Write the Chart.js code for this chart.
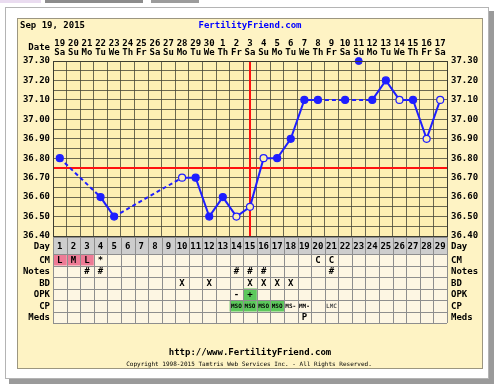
<!DOCTYPE html>
<html>
<head>
<meta charset="utf-8">
<script src="https://cdn.jsdelivr.net/npm/chart.js@4.4.0/dist/chart.umd.min.js"></script>
<style>
html, body { margin: 0; padding: 0; background: #fff; }
canvas { display: block; }
</style>
</head>
<body>
<canvas id="ffChart" width="500" height="387"></canvas>
<script>
// chart data
const chartTitle = 'Sep 19, 2015';
const cycleDays = ['1','2','3','4','5','6','7','8','9','10','11','12','13','14','15','16','17','18','19','20','21','22','23','24','25','26','27','28','29'];
const dates = ['19','20','21','22','23','24','25','26','27','28','29','30','1','2','3','4','5','6','7','8','9','10','11','12','13','14','15','16','17'];
const weekdays = ['Sa','Su','Mo','Tu','We','Th','Fr','Sa','Su','Mo','Tu','We','Th','Fr','Sa','Su','Mo','Tu','We','Th','Fr','Sa','Su','Mo','Tu','We','Th','Fr','Sa'];
const temps = [36.80, null, null, 36.60, 36.50, null, null, null, null, 36.70, 36.70, 36.50, 36.60, 36.50, 36.55, 36.80, 36.80, 36.90, 37.10, 37.10, null, 37.10, null, 37.10, 37.20, 37.10, 37.10, 36.90, 37.10];
const discardedTemps = [null, null, null, null, null, null, null, null, null, null, null, null, null, null, null, null, null, null, null, null, null, null, 37.30, null, null, null, null, null, null];
const openCircleDays = [10, 14, 15, 16, 26, 28, 29];
const coverline = 36.75;
const ovulationDay = '15';
const tempMin = 36.40;
const tempMax = 37.30;

const rowLabels = ['CM', 'Notes', 'BD', 'OPK', 'CP', 'Meds'];
const cmRow =    ['L','M','L','*','','','','','','','','','','','','','','','','C','C','','','','','','','',''];
const notesRow = ['','','#','#','','','','','','','','','','#','#','#','','','','','#','','','','','','','',''];
const bdRow =    ['','','','','','','','','','X','','X','','','X','X','X','X','','','','','','','','','','',''];
const opkRow =   ['','','','','','','','','','','','','','-','+','','','','','','','','','','','','','',''];
const cpRow =    ['','','','','','','','','','','','','','MSO','MSO','MSO','MSO','MS-','MM-','','LMC','','','','','','','',''];
const medsRow =  ['','','','','','','','','','','','','','','','','','','P','','','','','','','','','',''];
const tableRows = [cmRow, notesRow, bdRow, opkRow, cpRow, medsRow];

const MONO = '"DejaVu Sans Mono", "Liberation Mono", monospace';
const BLUE = '#1e1eff';
const PLOT_BG = '#fdefb3';
const PANEL_BG = '#fef3c4';
const GRID = 'rgba(70,70,55,0.8)';

function cellColor(row, value) {
	if (row === 0 && (value === 'L' || value === 'M')) return '#ee7b96';
	if (row === 3 && value === '+') return '#5cc85c';
	if (row === 4 && value === 'MSO') return '#5cc85c';
	return null;
}

const pageBackground = {
	id: 'pageBackground',
	beforeDraw(chart) {
		const ctx = chart.ctx;
		const a = chart.chartArea;
		ctx.save();
		ctx.fillStyle = '#fff';
		ctx.fillRect(0, 0, chart.width, chart.height);
		// bits of the site menu at the very top
		ctx.fillStyle = '#eadcf0';
		ctx.fillRect(0, 0, 41, 3);
		ctx.fillStyle = '#8c8c8c';
		ctx.fillRect(45, 0, 98, 3);
		ctx.fillStyle = '#9c9c9c';
		ctx.fillRect(151, 0, 48, 3);
		// frame with shadow
		ctx.fillStyle = '#9a9a9a';
		ctx.fillRect(9, 11, 485, 373);
		ctx.fillStyle = '#fff';
		ctx.fillRect(5, 7, 484, 372);
		ctx.strokeStyle = '#b4b4b4';
		ctx.lineWidth = 1;
		ctx.strokeRect(5.5, 7.5, 483, 371);
		// yellow panel
		ctx.fillStyle = PANEL_BG;
		ctx.fillRect(17, 18, 465, 350);
		ctx.strokeStyle = '#9c9680';
		ctx.strokeRect(17.5, 18.5, 465, 350);
		// plot area
		ctx.fillStyle = PLOT_BG;
		ctx.fillRect(a.left, a.top, a.right - a.left, a.bottom - a.top);
		ctx.restore();
	},
	beforeDatasetsDraw(chart) {
		const ctx = chart.ctx;
		const a = chart.chartArea;
		const x = chart.scales.x;
		const y = chart.scales.y;
		ctx.save();
		ctx.strokeStyle = '#ff1010';
		ctx.lineWidth = 2;
		const cy = Math.round(y.getPixelForValue(coverline));
		ctx.beginPath();
		ctx.moveTo(a.left, cy);
		ctx.lineTo(a.right, cy);
		const ox = Math.round(x.getPixelForValue(cycleDays.indexOf(ovulationDay)));
		ctx.moveTo(ox, a.top);
		ctx.lineTo(ox, a.bottom);
		ctx.stroke();
		ctx.restore();
	},
	afterDraw(chart) {
		const ctx = chart.ctx;
		const a = chart.chartArea;
		const x = chart.scales.x;
		const half = (x.getPixelForValue(1) - x.getPixelForValue(0)) / 2;
		ctx.save();
		ctx.fillStyle = '#000';
		ctx.font = 'bold 9px ' + MONO;
		ctx.textBaseline = 'middle';
		ctx.textAlign = 'left';
		ctx.fillText(chartTitle, 20, 26);
		ctx.textAlign = 'right';
		ctx.fillText('Date', 50, 48);
		ctx.textAlign = 'center';
		ctx.fillStyle = '#0000ff';
		ctx.fillText('FertilityFriend.com', 250, 26);

		// table under the plot
		const dayTop = a.bottom + 1;
		const dayBottom = dayTop + 17;
		const rowH = 11.5;
		const tableBottom = dayBottom + rowH * tableRows.length;
		ctx.fillStyle = '#cdcdcd';
		ctx.fillRect(a.left, dayTop, a.right - a.left, dayBottom - dayTop);
		ctx.fillStyle = '#fdf6e3';
		ctx.fillRect(a.left, dayBottom, a.right - a.left, tableBottom - dayBottom);

		tableRows.forEach((row, r) => {
			const top = dayBottom + r * rowH;
			row.forEach((val, i) => {
				const bg = cellColor(r, val);
				if (bg) {
					ctx.fillStyle = bg;
					ctx.fillRect(x.getPixelForValue(i) - half, top, half * 2, rowH);
				}
			});
		});

		ctx.strokeStyle = '#8e8e8e';
		ctx.lineWidth = 1;
		ctx.beginPath();
		for (let i = 0; i <= cycleDays.length; i++) {
			const bx = Math.round(x.getPixelForValue(i) - half) + 0.5;
			ctx.moveTo(bx, dayTop);
			ctx.lineTo(bx, tableBottom);
		}
		ctx.moveTo(a.left, dayTop + 0.5);
		ctx.lineTo(a.right, dayTop + 0.5);
		for (let r = 0; r <= tableRows.length; r++) {
			const by = Math.round(dayBottom + r * rowH) + 0.5;
			ctx.moveTo(a.left, by);
			ctx.lineTo(a.right, by);
		}
		ctx.stroke();

		ctx.fillStyle = '#000';
		ctx.font = 'bold 9px ' + MONO;
		const dayMid = (dayTop + dayBottom) / 2 + 1;
		cycleDays.forEach((d, i) => {
			ctx.fillText(d, x.getPixelForValue(i), dayMid);
		});
		ctx.textAlign = 'right';
		ctx.fillText('Day', 50, dayMid);
		ctx.textAlign = 'left';
		ctx.fillText('Day', 451, dayMid);
		rowLabels.forEach((lab, r) => {
			const cyRow = dayBottom + r * rowH + rowH / 2 + 0.5;
			ctx.textAlign = 'right';
			ctx.fillText(lab, 50, cyRow);
			ctx.textAlign = 'left';
			ctx.fillText(lab, 451, cyRow);
		});

		ctx.textAlign = 'center';
		tableRows.forEach((row, r) => {
			const cyRow = dayBottom + r * rowH + rowH / 2 + 0.5;
			row.forEach((val, i) => {
				if (!val) return;
				ctx.font = (val.length > 1 ? 'bold 6px ' : 'bold 9px ') + MONO;
				ctx.fillStyle = val === 'LMC' ? '#555' : '#000';
				ctx.fillText(val, x.getPixelForValue(i), cyRow);
			});
		});

		// footer
		ctx.fillStyle = '#000';
		ctx.font = 'bold 9px ' + MONO;
		ctx.fillText('http://www.FertilityFriend.com', 250, 353);
		ctx.font = '6px ' + MONO;
		ctx.fillText('Copyright 1998-2015 Tamtris Web Services Inc. - All Rights Reserved.', 249, 364);

		// plot border
		ctx.strokeStyle = '#3c3c30';
		ctx.strokeRect(a.left + 0.5, a.top + 0.5, a.right - a.left, a.bottom - a.top);
		ctx.restore();
	}
};

const pointFill = cycleDays.map((d, i) => (openCircleDays.includes(i + 1) ? PLOT_BG : BLUE));
const tickFont = { family: MONO, size: 9, weight: 'bold', lineHeight: 1 };

// dashed where the line jumps over days with no temperature
function spansGap(ctx) {
	return temps[ctx.p1DataIndex - 1] == null;
}

new Chart(document.getElementById('ffChart'), {
	type: 'line',
	data: {
		labels: cycleDays,
		datasets: [
			{
				label: 'Temperature',
				data: temps,
				borderColor: BLUE,
				borderWidth: 2,
				spanGaps: true,
				pointRadius: 3.5,
				pointBorderWidth: 1.2,
				pointBorderColor: BLUE,
				pointBackgroundColor: pointFill,
				segment: {
					borderDash: ctx => (spansGap(ctx) ? [4, 3] : undefined)
				},
				clip: false
			},
			{
				label: 'Discarded',
				data: discardedTemps,
				showLine: false,
				pointRadius: 3.5,
				pointBorderColor: BLUE,
				pointBackgroundColor: BLUE,
				clip: false
			}
		]
	},
	options: {
		responsive: false,
		devicePixelRatio: 1,
		animation: false,
		layout: { padding: { left: 0, right: 0, top: 0, bottom: 151 } },
		plugins: {
			legend: { display: false },
			tooltip: { enabled: false }
		},
		scales: {
			x: {
				type: 'category',
				position: 'top',
				offset: true,
				grid: { offset: true, color: GRID, drawTicks: false },
				border: { display: false },
				ticks: {
					autoSkip: false,
					maxRotation: 0,
					padding: 4,
					color: '#000',
					font: tickFont,
					callback: (v, i) => [dates[i], weekdays[i]]
				},
				afterFit: s => { s.height = 61; }
			},
			y: {
				position: 'left',
				min: tempMin,
				max: tempMax,
				grid: { color: GRID, drawTicks: false },
				border: { display: false },
				ticks: {
					stepSize: 0.05,
					autoSkip: false,
					padding: 3,
					color: '#000',
					font: tickFont,
					callback: v => (Math.round(v * 100) % 10 === 0 ? v.toFixed(2) : '')
				},
				afterFit: s => { s.width = 53; }
			},
			y2: {
				position: 'right',
				min: tempMin,
				max: tempMax,
				grid: { display: false, drawTicks: false },
				border: { display: false },
				ticks: {
					stepSize: 0.05,
					autoSkip: false,
					padding: 4,
					color: '#000',
					font: tickFont,
					callback: v => (Math.round(v * 100) % 10 === 0 ? v.toFixed(2) : '')
				},
				afterFit: s => { s.width = 53; }
			}
		}
	},
	plugins: [pageBackground]
});
</script>
</body>
</html>
